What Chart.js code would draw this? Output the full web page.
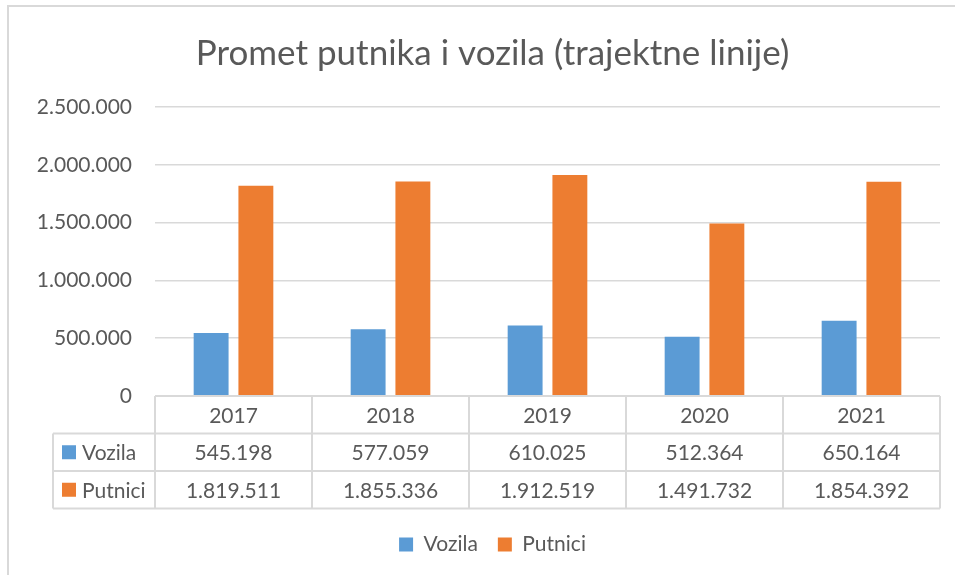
<!DOCTYPE html>
<html lang="hr">
<head>
<meta charset="UTF-8">
<title>Promet putnika i vozila</title>
<script src="https://cdn.jsdelivr.net/npm/chart.js"></script>
<style>
  body { margin: 0; background: #fff; }
</style>
</head>
<body>
<canvas id="prometChart" width="955" height="575"></canvas>
<script>
const years = ['2017', '2018', '2019', '2020', '2021'];
const vozila = [545198, 577059, 610025, 512364, 650164];
const putnici = [1819511, 1855336, 1912519, 1491732, 1854392];
const seriesNames = ['Vozila', 'Putnici'];
const yTicks = [0, 500000, 1000000, 1500000, 2000000, 2500000];

const blue = '#5b9bd5';
const orange = '#ed7d31';
const textColor = '#595959';
const lineColor = '#d9d9d9';

Chart.defaults.font.family = 'Lato, "Open Sans", sans-serif';
Chart.defaults.color = textColor;

function fmt(v) {
  return v.toLocaleString('de-DE');
}

// frame around the chart area (like the Excel chart border)
const framePlugin = {
  id: 'frame',
  beforeDraw(chart) {
    const ctx = chart.ctx;
    ctx.save();
    ctx.fillStyle = '#fff';
    ctx.fillRect(0, 0, chart.width, chart.height);
    ctx.strokeStyle = lineColor;
    ctx.lineWidth = 2;
    ctx.beginPath();
    ctx.moveTo(8, chart.height);
    ctx.lineTo(8, 6);
    ctx.lineTo(chart.width, 6);
    ctx.stroke();
    ctx.restore();
  }
};

// data table under the plot, like Excel's "data table" option
const tablePlugin = {
  id: 'dataTable',
  afterDraw(chart) {
    const ctx = chart.ctx;
    const x = chart.scales.x;
    const top = chart.chartArea.bottom;
    const rowH = 37.5;
    const colW = x.width / years.length;
    const labelLeft = x.left - 102;
    const rows = [vozila, putnici];
    const colors = [blue, orange];

    ctx.save();
    ctx.strokeStyle = lineColor;
    ctx.lineWidth = 2;
    ctx.beginPath();
    // horizontal lines
    ctx.moveTo(x.left, top); ctx.lineTo(x.right, top);
    for (let r = 1; r <= 3; r++) {
      ctx.moveTo(labelLeft, top + rowH * r);
      ctx.lineTo(x.right, top + rowH * r);
    }
    // vertical lines
    ctx.moveTo(labelLeft, top + rowH); ctx.lineTo(labelLeft, top + rowH * 3);
    for (let i = 0; i <= years.length; i++) {
      const px = x.left + colW * i;
      ctx.moveTo(px, top); ctx.lineTo(px, top + rowH * 3);
    }
    ctx.stroke();

    ctx.font = '21px ' + Chart.defaults.font.family;
    ctx.fillStyle = textColor;
    ctx.textAlign = 'center';
    ctx.textBaseline = 'middle';
    years.forEach((yr, i) => {
      const cx = x.getPixelForValue(i);
      ctx.fillText(yr, cx, top + rowH / 2 + 1);
      rows.forEach((row, r) => {
        ctx.fillText(fmt(row[i]), cx, top + rowH * (r + 1.5) + 1);
      });
    });

    ctx.textAlign = 'left';
    seriesNames.forEach((name, r) => {
      const cy = top + rowH * (r + 1.5);
      ctx.fillStyle = colors[r];
      ctx.fillRect(labelLeft + 9, cy - 7, 14, 14);
      ctx.fillStyle = textColor;
      ctx.fillText(name, labelLeft + 29, cy + 1);
    });
    ctx.restore();
  }
};

new Chart(document.getElementById('prometChart'), {
  type: 'bar',
  data: {
    labels: years,
    datasets: [
      { label: seriesNames[0], data: vozila, backgroundColor: blue },
      { label: seriesNames[1], data: putnici, backgroundColor: orange }
    ]
  },
  options: {
    responsive: false,
    animation: false,
    categoryPercentage: 0.57,
    barPercentage: 0.78,
    layout: { padding: { left: 30, right: 0, top: 0, bottom: 10 } },
    plugins: {
      title: {
        display: true,
        text: 'Promet putnika i vozila (trajektne linije)',
        color: textColor,
        font: { size: 35, weight: 'normal' },
        padding: { top: 33, bottom: 32 }
      },
      legend: {
        position: 'bottom',
        labels: {
          boxWidth: 14,
          boxHeight: 14,
          padding: 20,
          color: textColor,
          font: { size: 21 }
        }
      },
      tooltip: { enabled: false }
    },
    scales: {
      x: {
        grid: { display: false },
        border: { display: false },
        ticks: { display: false },
        afterFit(scale) { scale.height = 118; }
      },
      y: {
        min: 0,
        max: yTicks[yTicks.length - 1],
        afterBuildTicks(scale) {
          scale.ticks = yTicks.map(v => ({ value: v }));
        },
        afterFit(scale) { scale.width = 125; },
        grid: { color: lineColor, lineWidth: 1.5, drawTicks: false },
        border: { display: false },
        ticks: {
          padding: 23,
          color: textColor,
          font: { size: 21 },
          callback: v => fmt(v)
        }
      },
      // empty right margin so the plot ends where the table ends
      yRight: {
        type: 'linear',
        position: 'right',
        grid: { display: false },
        border: { display: false },
        ticks: { display: false },
        afterFit(scale) { scale.width = 15; }
      }
    }
  },
  plugins: [framePlugin, tablePlugin]
});
</script>
</body>
</html>
